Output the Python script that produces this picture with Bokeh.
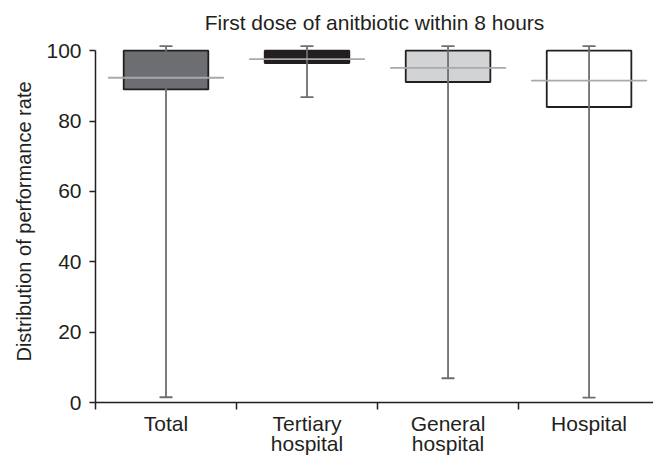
from bokeh.plotting import figure
from bokeh.models import ColumnDataSource, Range1d, FixedTicker
from bokeh.embed import file_html
from bokeh.resources import INLINE

categories = ["Total", "Tertiary\nhospital", "General\nhospital", "Hospital"]
upper_whisker = [101.3, 101.3, 101.3, 101.3]
q3 = [100.0, 100.0, 100.0, 100.0]
median = [92.3, 97.6, 95.1, 91.5]
q1 = [89.0, 96.5, 91.1, 84.0]
lower_whisker = [1.5, 86.8, 6.9, 1.4]
box_colors = ["#6d6e71", "#231f20", "#d1d3d4", "#ffffff"]
y_ticks = [0, 20, 40, 60, 80, 100]

xs = [i + 0.5 for i in range(len(categories))]
src = ColumnDataSource(dict(x=xs, up=upper_whisker, q3=q3, med=median, q1=q1,
                            lo=lower_whisker, color=box_colors))

FONT = "Liberation Sans"
DARK = "#231f20"

p = figure(width=653, height=458, output_backend="svg", toolbar_location=None,
           x_range=Range1d(0, 3.957), y_range=Range1d(0, 102.9),
           min_border_left=95, min_border_right=0, min_border_top=40,
           min_border_bottom=56)
p.outline_line_color = None
p.grid.visible = False
p.background_fill_color = "white"

p.title.text = "First dose of anitbiotic within 8 hours"
p.title.align = "center"
p.title.text_font = FONT
p.title.text_font_size = "21px"
p.title.text_font_style = "normal"
p.title.text_color = DARK
p.title.standoff = 14

# boxes
p.vbar(x="x", top="q3", bottom="q1", width=0.6, fill_color="color",
       line_color=DARK, line_width=1.8, source=src)
# whiskers
p.segment(x0="x", y0="lo", x1="x", y1="up", line_color="#6d6e71",
          line_width=1.8, source=src)
p.rect(x="x", y="up", width=0.085, height=0.01, line_color="#6d6e71",
       line_width=1.8, fill_color=None, source=src)
p.rect(x="x", y="lo", width=0.085, height=0.01, line_color="#6d6e71",
       line_width=1.8, fill_color=None, source=src)
# median
p.rect(x="x", y="med", width=0.815, height=0.01, line_color="#a7a9ac",
       line_width=1.8, fill_color=None, source=src)

# y axis
ya = p.yaxis[0]
ya.ticker = FixedTicker(ticks=y_ticks)
ya.bounds = (0, 100)
ya.axis_label = "Distribution of performance rate"
ya.axis_label_text_font = FONT
ya.axis_label_text_font_size = "20px"
ya.axis_label_text_font_style = "normal"
ya.axis_label_text_color = DARK
ya.axis_label_standoff = 8
ya.major_label_text_font = FONT
ya.major_label_text_font_size = "21px"
ya.major_label_text_color = DARK
ya.major_label_standoff = 8
ya.major_tick_out = 6
ya.major_tick_in = 0
ya.minor_tick_out = 0
ya.minor_tick_in = 0
ya.axis_line_color = DARK
ya.axis_line_width = 1.5
ya.major_tick_line_color = DARK
ya.major_tick_line_width = 1.5

# x axis
xa = p.xaxis[0]
xa.ticker = FixedTicker(ticks=xs, minor_ticks=[0, 1, 2, 3])
xa.major_label_overrides = {x: c for x, c in zip(xs, categories)}
xa.major_label_text_font = FONT
xa.major_label_text_font_size = "21px"
xa.major_label_text_line_height = 0.9
xa.major_label_text_color = DARK
xa.major_label_standoff = 2
xa.major_tick_out = 0
xa.major_tick_in = 0
xa.minor_tick_out = 7
xa.minor_tick_in = 0
xa.minor_tick_line_color = DARK
xa.minor_tick_line_width = 1.5
xa.axis_line_color = DARK
xa.axis_line_width = 1.5

open("out.html", "w").write(file_html(p, INLINE))
